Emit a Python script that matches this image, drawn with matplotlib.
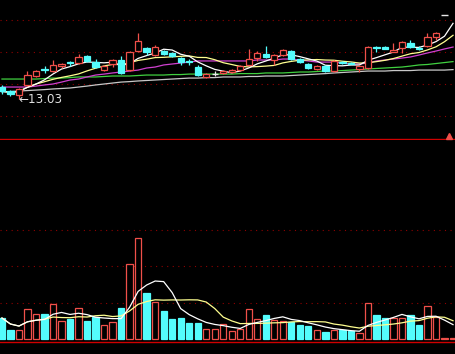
import numpy as np
import pandas as pd
import matplotlib
matplotlib.use("Agg")
import matplotlib.pyplot as plt
from matplotlib.patches import Rectangle

# daily bars, oldest first (price in yuan, volume in 10k lots)
opens = [13.78, 13.53, 13.28, 13.91, 14.47, 14.91, 14.78, 15.09, 15.34, 15.28,
         15.72, 15.34, 14.84, 15.22, 15.47, 14.84, 16.03, 16.22, 15.78, 16.03,
         15.91, 15.59, 15.41, 15.03, 14.41, 14.62, 14.66, 14.72, 14.84, 15.16,
         15.59, 15.84, 15.47, 15.78, 16.03, 15.53, 15.22, 14.91, 15.09, 14.78,
         15.34, 15.28, 14.91, 14.97, 16.28, 16.28, 15.97, 16.22, 16.53, 16.22,
         16.34, 16.91, 18.28, 20.30]
highs = [13.91, 13.59, 13.72, 14.78, 14.84, 15.09, 15.47, 15.28, 15.41, 15.84,
         15.78, 15.53, 15.16, 15.53, 15.72, 16.03, 17.16, 16.28, 16.41, 16.09,
         15.97, 15.66, 15.53, 15.16, 14.66, 14.78, 14.84, 14.91, 15.16, 16.16,
         16.03, 16.34, 15.84, 16.16, 16.09, 15.59, 15.28, 15.16, 15.16, 15.47,
         15.41, 15.34, 15.16, 16.34, 16.34, 16.34, 16.53, 16.66, 16.72, 16.34,
         17.16, 17.22, 18.28, 20.30]
lows = [13.34, 13.22, 13.03, 13.84, 14.41, 14.66, 14.72, 14.97, 15.09, 15.22,
        15.34, 14.97, 14.78, 15.03, 14.59, 14.78, 15.97, 15.78, 15.72, 15.78,
        15.66, 15.16, 15.16, 14.47, 14.34, 14.47, 14.59, 14.66, 14.78, 15.09,
        15.41, 15.59, 15.16, 15.72, 15.47, 15.28, 14.91, 14.84, 14.72, 14.72,
        15.22, 15.22, 14.72, 14.91, 15.97, 16.16, 15.97, 15.91, 16.22, 16.09,
        16.28, 16.72, 18.28, 20.30]
closes = [13.53, 13.34, 13.66, 14.53, 14.78, 14.84, 15.16, 15.22, 15.28, 15.66,
          15.41, 15.03, 15.09, 15.47, 14.66, 15.97, 16.66, 15.97, 16.28, 15.84,
          15.72, 15.34, 15.34, 14.53, 14.59, 14.62, 14.78, 14.84, 15.09, 15.53,
          15.91, 15.66, 15.78, 16.09, 15.53, 15.34, 14.97, 15.09, 14.78, 15.41,
          15.28, 15.22, 15.09, 16.28, 16.22, 16.16, 16.09, 16.59, 16.28, 16.16,
          16.91, 17.16, 18.28, 20.30]
volumes = [2.88, 1.23, 1.23, 4.11, 3.42, 3.42, 4.79, 2.47, 2.74, 4.25,
           2.47, 3.01, 1.92, 2.33, 4.25, 10.27, 13.84, 6.30, 5.07, 3.84,
           2.74, 2.88, 2.19, 2.19, 1.37, 1.37, 2.05, 1.10, 1.37, 4.11,
           2.74, 3.29, 2.60, 2.47, 2.33, 1.92, 1.78, 1.23, 0.96, 1.23,
           1.23, 1.10, 0.82, 4.93, 3.29, 2.88, 2.88, 2.88, 3.29, 1.92,
           4.52, 3.01, 0.20, 0.20]
# longer moving averages
ma20 = [13.78, 13.78, 13.78, 13.78, 13.84, 13.91, 13.97, 14.09, 14.22, 14.28,
        14.41, 14.53, 14.59, 14.66, 14.72, 14.78, 14.84, 14.97, 15.03, 15.16,
        15.22, 15.28, 15.34, 15.41, 15.41, 15.41, 15.41, 15.41, 15.41, 15.41,
        15.47, 15.47, 15.47, 15.53, 15.53, 15.47, 15.41, 15.34, 15.34, 15.34,
        15.28, 15.22, 15.22, 15.28, 15.41, 15.47, 15.53, 15.59, 15.66, 15.78,
        15.91, 16.03, 16.16, 16.28]
ma30 = [14.28, 14.28, 14.28, 14.28, 14.28, 14.31, 14.34, 14.34, 14.37, 14.41,
        14.41, 14.41, 14.44, 14.47, 14.47, 14.47, 14.50, 14.53, 14.53, 14.53,
        14.56, 14.56, 14.59, 14.59, 14.59, 14.59, 14.59, 14.59, 14.62, 14.62,
        14.62, 14.66, 14.66, 14.66, 14.69, 14.72, 14.72, 14.75, 14.78, 14.78,
        14.81, 14.84, 14.87, 14.91, 14.94, 14.97, 15.00, 15.03, 15.09, 15.16,
        15.19, 15.25, 15.31, 15.37]
ma60 = [13.47, 13.50, 13.53, 13.56, 13.59, 13.62, 13.66, 13.69, 13.72, 13.78,
        13.84, 13.91, 13.97, 14.03, 14.09, 14.12, 14.16, 14.19, 14.22, 14.25,
        14.28, 14.31, 14.34, 14.34, 14.37, 14.37, 14.41, 14.41, 14.41, 14.44,
        14.44, 14.47, 14.47, 14.47, 14.50, 14.53, 14.56, 14.59, 14.62, 14.66,
        14.69, 14.72, 14.75, 14.78, 14.78, 14.78, 14.81, 14.81, 14.81, 14.84,
        14.84, 14.84, 14.84, 14.87]
price_grid = [12, 14, 16, 18]
vol_grid = [5, 10, 15]

BG = "black"
UP = "#f0504a"
DOWN = "#54fcfc"
FLAT = "#e8e8e8"
GRID = "#900000"
LINE = "#d00000"

n = len(closes)
x = np.arange(n)
ma5 = pd.Series(closes).rolling(5, min_periods=1).mean()
ma10 = pd.Series(closes).rolling(10, min_periods=1).mean()
vma5 = pd.Series(volumes).rolling(5, min_periods=1).mean()
vma10 = pd.Series(volumes).rolling(10, min_periods=1).mean()

fig = plt.figure(figsize=(4.56, 3.54), dpi=100, facecolor=BG)
ax = fig.add_axes([0, 1 - 140 / 354, 1, 140 / 354])
axv = fig.add_axes([0, 0, 1, 214 / 354])
for a in (ax, axv):
    a.patch.set_visible(False)
    a.set_xlim(-0.23, 53.35)
    a.set_xticks([])
    a.set_yticks([])
    for s in a.spines.values():
        s.set_visible(False)
ax.set_ylim(10.47, 19.22)
axv.set_ylim(-2.05, 27.26)

for g in price_grid:
    ax.axhline(g, color=GRID, lw=0.8, ls=(0, (1, 4)), zorder=0)
for g in vol_grid:
    axv.axhline(g, color=GRID, lw=0.8, ls=(0, (1, 4)), zorder=0)
ax.axhline(10.53, color=LINE, lw=1.0, zorder=1)
axv.axhline(-0.4, color=LINE, lw=1.0)

# moving averages on price
ax.plot(x, ma60, color="#c8c8c8", lw=0.9, zorder=2)
ax.plot(x, ma30, color="#40d040", lw=0.9, zorder=2)
ax.plot(x, ma20, color="#d040d0", lw=0.9, zorder=2)
ax.plot(x, ma10, color="#ffff90", lw=0.9, zorder=2)
ax.plot(x, ma5, color="white", lw=0.9, zorder=2)

# candles
w = 0.74
for i in range(n):
    o, h, l, c = opens[i], highs[i], lows[i], closes[i]
    if c > o:
        col = UP
    elif c < o:
        col = DOWN
    else:
        col = FLAT
    ax.vlines(i, l, h, color=col, lw=0.9, zorder=3)
    if c == o:
        ax.hlines(c, i - w / 2, i + w / 2, color=col, lw=1.0, zorder=4)
    else:
        face = BG if c > o else col
        ax.add_patch(Rectangle((i - w / 2, min(o, c)), w, abs(c - o),
                               facecolor=face, edgecolor=col, lw=0.9, zorder=4))

low_i = int(np.argmin(lows))
ax.text(low_i - 0.12, lows[low_i], "\u2190" + f"{lows[low_i]:.2f}",
        color="#e0e0e0", fontsize=8.6, ha="left", va="center", zorder=5)
ax.plot([52.47], [10.72], marker="^", color=UP, markersize=5, zorder=5)

# volume bars
for i in range(n):
    up = closes[i] >= opens[i]
    col = UP if up else DOWN
    face = BG if up and volumes[i] > 0.5 else col
    axv.add_patch(Rectangle((i - w / 2, 0), w, volumes[i],
                            facecolor=face, edgecolor=col, lw=0.9, zorder=3))
axv.plot(x, vma10, color="#ffff90", lw=0.9, zorder=4)
axv.plot(x, vma5, color="white", lw=0.9, zorder=4)

fig.savefig("out.png", dpi=100, facecolor=BG)
